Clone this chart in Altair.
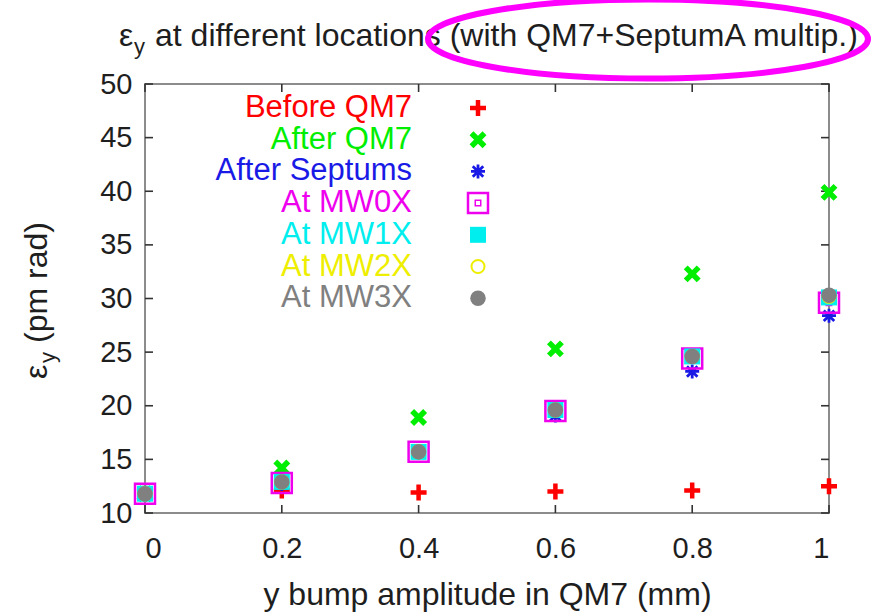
import altair as alt
import pandas as pd

# y bump amplitude in QM7 (mm)
amplitude = [0.0, 0.2, 0.4, 0.6, 0.8, 1.0]

# vertical emittance (pm rad) at each location
before_qm7 = [11.8, 12.1, 11.9, 12.0, 12.1, 12.5]
after_qm7 = [11.8, 14.2, 18.9, 25.3, 32.3, 39.9]
after_septums = [11.8, 12.7, 15.6, 19.1, 23.2, 28.4]
at_mw0x = [11.8, 12.8, 15.7, 19.5, 24.4, 29.6]
at_mw1x = [11.8, 12.9, 15.7, 19.6, 24.6, 30.1]
at_mw2x = [11.8, 12.9, 15.7, 19.6, 24.6, 30.2]
at_mw3x = [11.8, 12.9, 15.7, 19.6, 24.6, 30.3]

series_names = ["Before QM7", "After QM7", "After Septums", "At MW0X",
                "At MW1X", "At MW2X", "At MW3X"]
series_values = [before_qm7, after_qm7, after_septums, at_mw0x,
                 at_mw1x, at_mw2x, at_mw3x]

x_ticks = [0.0, 0.2, 0.4, 0.6, 0.8, 1.0]
y_ticks = [10, 15, 20, 25, 30, 35, 40, 45, 50]

# gnuplot-like point styles: colour, shape, filled, size, stroke width
PLUS = "M-1,0L1,0M0,-1L0,1"
CROSS = "M-1,-1L1,1M-1,1L1,-1"
STAR = "M-1,0L1,0M0,-1L0,1M-0.75,-0.75L0.75,0.75M-0.75,0.75L0.75,-0.75"
styles = [
    dict(color="#ff0000", shape=PLUS, filled=False, size=256, sw=4.5),
    dict(color="#00ee00", shape=CROSS, filled=False, size=169, sw=5.5),
    dict(color="#1a1ae6", shape=STAR, filled=False, size=196, sw=2.8),
    dict(color="#ee00ee", shape="square", filled=False, size=400, sw=2.5),
    dict(color="#00eeee", shape="square", filled=True, size=256, sw=0),
    dict(color="#eeee00", shape="circle", filled=False, size=169, sw=2.0),
    dict(color="#808080", shape="circle", filled=True, size=240, sw=0),
]

W, H = 684, 429
FONT = "Liberation Sans"
TXT = "#1e1e1e"

xs = alt.Scale(domain=[0, 1], nice=False, zero=False)
ys = alt.Scale(domain=[10, 50], nice=False, zero=False)
x_axis = alt.Axis(values=x_ticks, format="~g", ticks=False, tickSize=0,
                  domain=False, grid=False, labelFontSize=29, labelFont=FONT,
                  labelColor=TXT, labelPadding=21,
                  title="y bump amplitude in QM7 (mm)", titleFont=FONT,
                  titleFontSize=32, titleFontWeight="normal", titleColor=TXT,
                  titlePadding=16)
y_axis = alt.Axis(values=y_ticks, ticks=False, tickSize=0, domain=False,
                  grid=False, labelFontSize=29, labelFont=FONT,
                  labelColor=TXT, labelPadding=13, title=None)


def X(field):
    return alt.X(field, type="quantitative", scale=xs, axis=x_axis)


def Y(field):
    return alt.Y(field, type="quantitative", scale=ys, axis=y_axis)


def point_kw(st):
    kw = dict(shape=st["shape"], size=st["size"], opacity=1)
    if st["filled"]:
        kw.update(filled=True, fill=st["color"], strokeWidth=0)
    else:
        kw.update(filled=False, stroke=st["color"], strokeWidth=st["sw"],
                  strokeCap="butt")
    return kw


layers = []

# inward ticks on all four sides of the frame
xt = pd.DataFrame({"v": x_ticks})
yt = pd.DataFrame({"v": y_ticks})
tick_style = dict(color="#333333", strokeWidth=1.6)
layers.append(alt.Chart(xt).mark_rule(**tick_style).encode(
    x=X("v"), y=alt.value(H), y2=alt.value(H - 8)))
layers.append(alt.Chart(xt).mark_rule(**tick_style).encode(
    x=X("v"), y=alt.value(0), y2=alt.value(8)))
layers.append(alt.Chart(yt).mark_rule(**tick_style).encode(
    y=Y("v"), x=alt.value(0), x2=alt.value(8)))
layers.append(alt.Chart(yt).mark_rule(**tick_style).encode(
    y=Y("v"), x=alt.value(W), x2=alt.value(W - 8)))

# data points, drawn in series order
for name, vals, st in zip(series_names, series_values, styles):
    df = pd.DataFrame({"amp": amplitude, "emit": vals, "series": name})
    layers.append(alt.Chart(df).mark_point(**point_kw(st)).encode(
        x=X("amp"), y=Y("emit")))
    if name == "At MW0X":
        layers.append(alt.Chart(df).mark_point(
            shape="square", size=30, filled=False, stroke=st["color"],
            strokeWidth=1.5, opacity=1).encode(x=X("amp"), y=Y("emit")))

# key inside the plot: coloured labels, symbol on the right
for i, (name, st) in enumerate(zip(series_names, styles)):
    ly = 24 + 31.7 * i
    one = pd.DataFrame({"label": [name]})
    layers.append(alt.Chart(one).mark_text(
        align="right", baseline="middle", font=FONT, fontSize=31,
        color=st["color"]).encode(
        text="label:N", x=alt.value(267), y=alt.value(ly)))
    layers.append(alt.Chart(one).mark_point(**point_kw(st)).encode(
        x=alt.value(333), y=alt.value(ly)))
    if name == "At MW0X":
        layers.append(alt.Chart(one).mark_point(
            shape="square", size=30, filled=False, stroke=st["color"],
            strokeWidth=1.5, opacity=1).encode(x=alt.value(333), y=alt.value(ly)))

# title with subscripted y
title_parts = [
    ("ε", 32, -26, -38),
    ("y", 22, -11, -30),
    ("at different locations (with QM7+SeptumA multip.)", 32, 10, -38),
]
for txt, fs, tx, ty in title_parts:
    layers.append(alt.Chart(pd.DataFrame({"t": [txt]})).mark_text(
        align="left", baseline="alphabetic", font=FONT, fontSize=fs,
        color=TXT).encode(text="t:N", x=alt.value(tx), y=alt.value(ty)))

# rotated y-axis title
ytitle_parts = [
    ("ε", 32, -98, 295),
    ("y", 22, -90, 279),
    ("(pm rad)", 32, -98, 259),
]
for txt, fs, tx, ty in ytitle_parts:
    layers.append(alt.Chart(pd.DataFrame({"t": [txt]})).mark_text(
        align="left", baseline="alphabetic", angle=270, font=FONT,
        fontSize=fs, color=TXT).encode(
        text="t:N", x=alt.value(tx), y=alt.value(ty)))

# magenta ellipse highlighting part of the title
ELLIPSE = "M-1,0A1,0.18 0 1,1 1,0A1,0.18 0 1,1 -1,0Z"
layers.append(alt.Chart(pd.DataFrame({"k": [0]})).mark_point(
    shape=ELLIPSE, size=440 * 440, filled=False, stroke="#ff00ff",
    strokeWidth=6, opacity=1).encode(x=alt.value(503), y=alt.value(-45)))

chart = alt.layer(*layers).properties(
    width=W, height=H,
    autosize=alt.AutoSizeParams(type="none"),
    padding={"left": 145, "top": 84, "right": 45, "bottom": 100},
    background="white",
).configure_view(stroke="#8c8c8c", strokeWidth=2)

chart.save("out.html", embed_options={"renderer": "svg", "actions": False})
